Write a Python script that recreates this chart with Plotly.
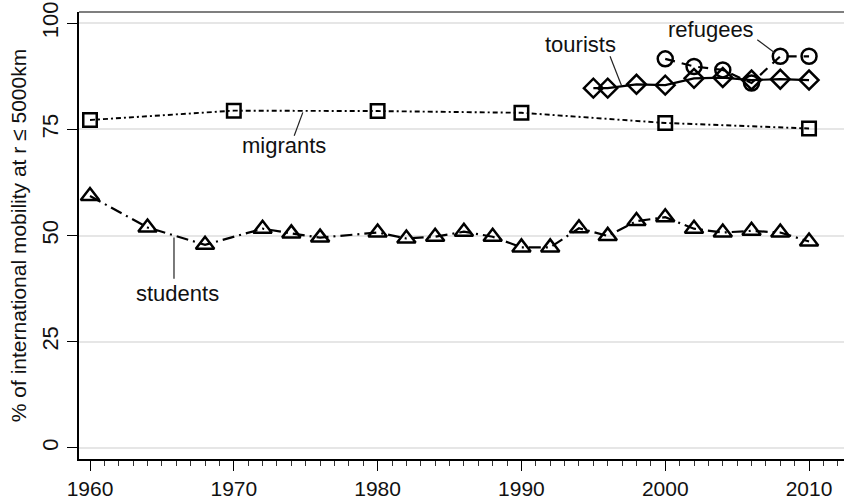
import plotly.graph_objects as go

# Share of international mobility within 5000 km, by group and year
students_years = [1960, 1964, 1968, 1972, 1974, 1976, 1980, 1982, 1984, 1986, 1988,
                  1990, 1992, 1994, 1996, 1998, 2000, 2002, 2004, 2006, 2008, 2010]
students_vals = [59.3, 51.9, 47.8, 51.6, 50.5, 49.5, 50.7, 49.3, 49.7, 50.9, 49.7,
                 47.2, 47.2, 51.7, 49.9, 53.4, 54.3, 51.6, 50.7, 51.1, 50.7, 48.6]

migrants_years = [1960, 1970, 1980, 1990, 2000, 2010]
migrants_vals = [77.2, 79.4, 79.3, 78.9, 76.5, 75.2]

tourists_years = [1995, 1996, 1998, 2000, 2002, 2004, 2006, 2008, 2010]
tourists_vals = [84.7, 84.7, 85.6, 85.4, 87.0, 87.2, 86.6, 86.8, 86.6]

refugees_years = [2000, 2002, 2004, 2006, 2008, 2010]
refugees_vals = [91.6, 89.8, 89.0, 85.9, 92.2, 92.2]

y_ticks = [0, 25, 50, 75, 100]
x_ticks = [1960, 1970, 1980, 1990, 2000, 2010]

FONT = "Liberation Sans, Arial, Helvetica, sans-serif"
INK = "black"

fig = go.Figure()

fig.add_trace(go.Scatter(
    x=students_years, y=students_vals, mode="lines+markers", name="students",
    line=dict(color=INK, width=2.2, dash="12px,5px,2px,5px"),
    marker=dict(symbol="triangle-up-open", size=16, color=INK, line=dict(width=2.5, color=INK)),
))
fig.add_trace(go.Scatter(
    x=migrants_years, y=migrants_vals, mode="lines+markers", name="migrants",
    line=dict(color=INK, width=1.9, dash="5px,3px,2px,3px"),
    marker=dict(symbol="square-open", size=13.5, color=INK, line=dict(width=2.5, color=INK)),
))
fig.add_trace(go.Scatter(
    x=tourists_years, y=tourists_vals, mode="lines+markers", name="tourists",
    line=dict(color=INK, width=2.2),
    marker=dict(symbol="diamond-open", size=14.5, color=INK, line=dict(width=2.5, color=INK)),
))
fig.add_trace(go.Scatter(
    x=refugees_years, y=refugees_vals, mode="lines+markers", name="refugees",
    line=dict(color=INK, width=2.2, dash="10px,7px"),
    marker=dict(symbol="circle-open", size=15, color=INK, line=dict(width=2.5, color=INK)),
))

# Series labels with thin leader lines
labels = [
    ("students", 1966.1, 36.4, 1965.84, 49.5, 1965.84, 39.8),
    ("migrants", 1973.5, 71.1, 1974.8, 79.0, 1974.2, 73.5),
    ("tourists", 1994.1, 95.0, 1996.97, 85.2, 1996.16, 92.2),
    ("refugees", 2003.2, 98.5, 2007.63, 93.0, 2006.4, 96.1),
]
for text, tx, ty, x0, y0, x1, y1 in labels:
    fig.add_annotation(x=tx, y=ty, text=text, showarrow=False,
                       xanchor="center", yanchor="middle",
                       font=dict(family=FONT, size=22, color="#111"))
    fig.add_shape(type="line", x0=x0, y0=y0, x1=x1, y1=y1, xref="x", yref="y",
                  line=dict(color="#222", width=1.2))

# Grey top border of the plot region
fig.add_shape(type="line", xref="paper", yref="paper", x0=0, x1=1, y0=1, y1=1,
              line=dict(color="#555", width=1.5))

fig.update_layout(
    width=844, height=500,
    margin=dict(l=79, r=0, t=12, b=36),
    paper_bgcolor="white", plot_bgcolor="white",
    showlegend=False,
    font=dict(family=FONT, size=21, color="#111"),
)
fig.update_xaxes(
    range=[1959.235, 2012.43],
    tickmode="array", tickvals=x_ticks,
    ticks="outside", ticklen=10, tickwidth=1.3, tickcolor=INK,
    minor=dict(dtick=1, tick0=1960, ticks="outside", ticklen=5, tickwidth=1, tickcolor="#333", showgrid=False),
    showline=True, linecolor=INK, linewidth=1.5,
    showgrid=False, zeroline=False,
    tickfont=dict(family=FONT, size=21, color="#111"),
)
fig.update_yaxes(
    range=[-2.63, 102.63],
    tickmode="array", tickvals=y_ticks,
    ticks="outside", ticklen=10, tickwidth=1.3, tickcolor=INK,
    tickangle=-90,
    showline=True, linecolor=INK, linewidth=1.5,
    showgrid=True, gridcolor="#e6e6e6", gridwidth=1.5, zeroline=False,
    tickfont=dict(family=FONT, size=22, color="#111"),
    title=dict(text="% of international mobility at r \u2264 5000km",
               font=dict(family=FONT, size=21, color="#111"), standoff=6),
)

fig.write_html("out.html")
